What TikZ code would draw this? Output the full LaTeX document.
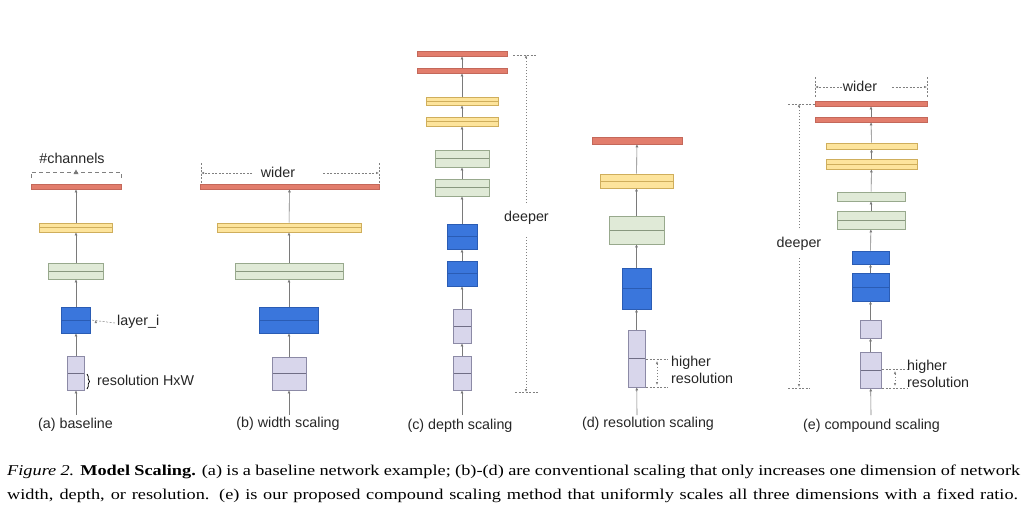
\documentclass[tikz,border=0pt]{standalone}
\usepackage{fontspec}
\setmainfont{Liberation Serif}
\newfontfamily\labelfont{Liberation Sans}
\newfontfamily\capfont[FakeStretch=1.22]{Liberation Serif}
\usetikzlibrary{arrows.meta,decorations.pathreplacing}

\definecolor{redfill}{HTML}{E27D6C}
\definecolor{rededge}{HTML}{C4685A}
\definecolor{yelfill}{HTML}{FDE49C}
\definecolor{yeledge}{HTML}{CFAE5C}
\definecolor{grnfill}{HTML}{E0EAD7}
\definecolor{grnedge}{HTML}{98A98D}
\definecolor{blufill}{HTML}{3A76DC}
\definecolor{bluedge}{HTML}{2A5CB4}
\definecolor{lavfill}{HTML}{D8D6EB}
\definecolor{lavedge}{HTML}{8C8AA6}
\definecolor{connc}{HTML}{7A7A7A}

\begin{document}
\begin{tikzpicture}[x=1pt,y=-1pt,
  blk/.style 2 args={inner sep=0pt,line width=0.6pt,minimum width=#1pt,minimum height=#2pt},
  split/.style={path picture={\draw[#1,line width=0.7pt] (path picture bounding box.west) -- (path picture bounding box.east);}},
  redbar/.style={draw=rededge,fill=redfill},
  yelbar/.style={draw=yeledge,fill=yelfill,split=yeledge},
  yelthin/.style={draw=yeledge,fill=yelfill},
  grnbox/.style={draw=grnedge,fill=grnfill,split=grnedge!90!black},
  grnthin/.style={draw=grnedge,fill=grnfill},
  blubox/.style={draw=bluedge,fill=blufill,split=bluedge},
  bluthin/.style={draw=bluedge,fill=blufill},
  lavbox/.style={draw=lavedge,fill=lavfill,split=lavedge!80!black},
  lavthin/.style={draw=lavedge,fill=lavfill},
  conn/.style={draw=connc,line width=0.6pt,-{Latex[length=3pt,width=3pt]}},
  dim/.style={draw=gray,line width=0.5pt,dash pattern=on 2pt off 1.5pt},
  dimarrow/.style={dim,-{Latex[length=3pt,width=2.5pt]}},
  dimboth/.style={dim,{Latex[length=3pt,width=2.5pt]}-{Latex[length=3pt,width=2.5pt]}},
  lbl/.style={font=\labelfont\fontsize{14.3}{17}\selectfont,inner sep=0pt,text=black!85},
  captxt/.style={anchor=west,inner sep=0pt,font=\capfont\fontsize{15}{24}\selectfont}
]
\useasboundingbox (0,0) rectangle (1031,522);

% (a) baseline
\coordinate (a0) at (76,415);
\node[lavbox,blk={17}{34}] (a1) at (76,373) {};
\node[blubox,blk={29}{26}] (a2) at (76,320) {};
\node[grnbox,blk={55}{16}] (a3) at (76,271) {};
\node[yelbar,blk={73}{9}] (a4) at (76,227.5) {};
\node[redbar,blk={90}{5}] (a5) at (76,186.5) {};
\draw[conn] (a0) -- (a1);
\draw[conn] (a1) -- (a2);
\draw[conn] (a2) -- (a3);
\draw[conn] (a3) -- (a4);
\draw[conn] (a4) -- (a5);
\node[lbl] (chan) at (72,158) {\#channels};
\draw[dim,dash pattern=on 4pt off 3pt,line width=0.8pt] (31,178) -- (31,172) -- (121,172) -- (121,178);
\fill[connc] (73.5,174) -- (78.5,174) -- (76,169.5) -- cycle;
\node[lbl,anchor=west] (layer) at (117,322) {layer\_i};
\draw[dimarrow] (layer.west) ++(-2,1) coordinate (lay1) -- (a2.east) ++(5,0);
\draw[line width=0.7pt,decorate,decoration={brace,amplitude=2.5pt}] (87,374) -- (87,389) coordinate (br);
\node[lbl,anchor=west] (res) at (97,380) {resolution HxW};
\node[lbl] (capa) at (75.5,425) {(a) baseline};

% (b) width scaling
\coordinate (b0) at (289,415);
\node[lavbox,blk={34}{33}] (b1) at (289,373.5) {};
\node[blubox,blk={59}{26}] (b2) at (289,320) {};
\node[grnbox,blk={108}{16}] (b3) at (289,271) {};
\node[yelbar,blk={144}{9}] (b4) at (289,227.5) {};
\node[redbar,blk={179}{5}] (b5) at (289.5,186.5) {};
\draw[conn] (b0) -- (b1);
\draw[conn] (b1) -- (b2);
\draw[conn] (b2) -- (b3);
\draw[conn] (b3) -- (b4);
\draw[conn] (b4) -- (b5);
\node[lbl] (wideb) at (278,172) {wider};
\coordinate (bl) at (201,173);
\coordinate (br) at (379,173);
\draw[dimarrow] (252,173) -- (bl);
\draw[dimarrow] (323,173) -- (br);
\draw[dim] (201,163) -- (201,183);
\draw[dim] (379,163) -- (379,183);
\node[lbl] (capb) at (288,424) {(b) width scaling};

% (c) depth scaling
\coordinate (c0) at (462,415);
\node[lavbox,blk={18}{34}] (c1) at (462,373) {};
\node[lavbox,blk={18}{34}] (c2) at (462,326) {};
\node[blubox,blk={30}{25}] (c3) at (462,273.5) {};
\node[blubox,blk={30}{25}] (c4) at (462,236.5) {};
\node[grnbox,blk={54}{17}] (c5) at (462,187.5) {};
\node[grnbox,blk={54}{17}] (c6) at (462,158.5) {};
\node[yelbar,blk={72}{9}] (c7) at (462,121.5) {};
\node[yelbar,blk={72}{8}] (c8) at (462,101) {};
\node[redbar,blk={90}{5}] (c9) at (462,70.5) {};
\node[redbar,blk={90}{5}] (c10) at (462,53.5) {};
\draw[conn] (c0) -- (c1);
\foreach \i [evaluate=\i as \j using int(\i+1)] in {1,...,9}
  \draw[conn] (c\i) -- (c\j);
\node[lbl] (deepc) at (526.5,218) {deeper};
\coordinate (ct) at (526,55);
\coordinate (cb) at (526,392);
\draw[dim] (513,55) -- (537,55);
\draw[dim] (515,392) -- (538,392);
\draw[dimarrow,dash pattern=on 1pt off 2pt] (526,203) -- (ct);
\draw[dimarrow,dash pattern=on 1pt off 2pt] (526,237) -- (cb);
\node[lbl] (capc) at (460,426) {(c) depth scaling};

% (d) resolution scaling
\coordinate (d0) at (637,415);
\node[lavbox,blk={17}{57}] (d1) at (636.5,358.5) {};
\node[blubox,blk={29}{41}] (d2) at (636.5,288.5) {};
\node[grnbox,blk={55}{28}] (d3) at (636.5,230) {};
\node[yelbar,blk={73}{14}] (d4) at (636.5,181) {};
\node[redbar,blk={90}{7}] (d5) at (637,140.5) {};
\draw[conn] (d0) -- (d1);
\draw[conn] (d1) -- (d2);
\draw[conn] (d2) -- (d3);
\draw[conn] (d3) -- (d4);
\draw[conn] (d4) -- (d5);
\draw[dim] (646,359) -- (668,359);
\draw[dim] (646,387) -- (668,387);
\draw[dimboth,dash pattern=on 1pt off 2pt] (657,361) -- (657,385);
\node[lbl,anchor=west,align=left] (hrd) at (671,369.5) {higher\\resolution};
\node[lbl] (capd) at (648,424) {(d) resolution scaling};

% (e) compound scaling
\coordinate (e0) at (871,415);
\node[lavbox,blk={21}{36}] (e1) at (870.5,370) {};
\node[lavthin,blk={21}{18}] (e2) at (870.5,329) {};
\node[blubox,blk={37}{28}] (e3) at (870.5,287) {};
\node[bluthin,blk={37}{13}] (e4) at (870.5,257.5) {};
\node[grnbox,blk={68}{18}] (e5) at (871,220) {};
\node[grnthin,blk={68}{9}] (e6) at (871,196.5) {};
\node[yelbar,blk={91}{10}] (e7) at (871.5,164) {};
\node[yelthin,blk={91}{6}] (e8) at (871.5,146) {};
\node[redbar,blk={112}{5}] (e9) at (871,119.5) {};
\node[redbar,blk={112}{5}] (e10) at (871,103.5) {};
\draw[conn] (e0) -- (e1);
\foreach \i [evaluate=\i as \j using int(\i+1)] in {1,...,9}
  \draw[conn] (e\i) -- (e\j);
\node[lbl] (widee) at (860,86) {wider};
\coordinate (el) at (815,87);
\coordinate (er) at (927,87);
\draw[dimarrow] (842,87) -- (el);
\draw[dimarrow] (892,87) -- (er);
\draw[dim] (815,77) -- (815,98);
\draw[dim] (927,77) -- (927,98);
\node[lbl] (deepe) at (799,244) {deeper};
\coordinate (et) at (799,104);
\coordinate (eb) at (799,387);
\draw[dim] (788,104) -- (815,104);
\draw[dim] (788,388) -- (810,388);
\draw[dimarrow,dash pattern=on 1pt off 2pt] (799,228) -- (et);
\draw[dimarrow,dash pattern=on 1pt off 2pt] (799,258) -- (eb);
\draw[dim] (882,369) -- (907,369);
\draw[dim] (882,388) -- (907,388);
\draw[dimboth,dash pattern=on 1pt off 2pt] (895,371) -- (895,386);
\node[lbl,anchor=west,align=left] (hre) at (907,374) {higher\\resolution};
\node[lbl] (cape) at (871.5,426) {(e) compound scaling};

% caption
\node[captxt] (cap1) at (7,472)
  {\makebox[1013pt][s]{\textit{Figure 2.} \textbf{Model Scaling.} (a) is a baseline network example; (b)-(d) are conventional scaling that only increases one dimension of network}};
\node[captxt] (cap2) at (7,496)
  {\makebox[1011pt][s]{width, depth, or resolution. (e) is our proposed compound scaling method that uniformly scales all three dimensions with a fixed ratio.}};
\end{tikzpicture}
\end{document}
